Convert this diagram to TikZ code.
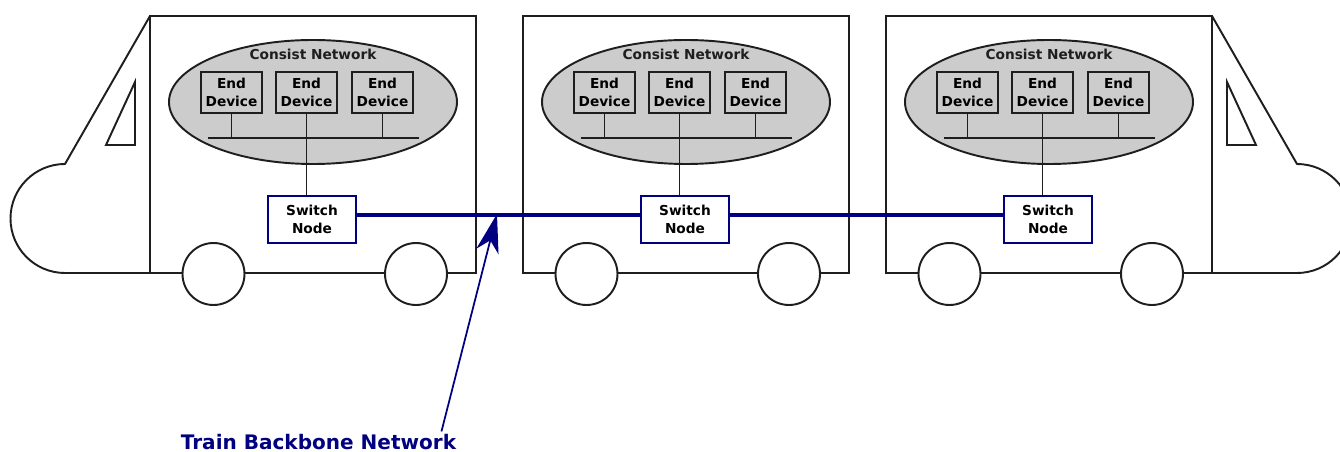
\documentclass[tikz,border=0pt]{standalone}
\usepackage{fontspec}
\setmainfont{DejaVu Sans}
\usetikzlibrary{arrows.meta,positioning}
\definecolor{Marino}{HTML}{000080}
\definecolor{Gris}{HTML}{CCCCCC}
\definecolor{Tinta}{HTML}{1E1E1E}

\begin{document}
\begin{tikzpicture}[x=0.02cm,y=-0.02cm,
    font=\fontsize{7.8}{9.9}\selectfont\bfseries,>=Stealth,
    linea/.style={draw=Tinta,line width=1.1pt},
    equipo/.style={linea,fill=Gris,minimum width=1.22cm,minimum height=0.82cm,
      inner sep=0pt,align=center},
    conmutador/.style={draw=Marino,line width=1.5pt,fill=white,
      minimum width=1.76cm,minimum height=0.94cm,inner sep=0pt,align=center},
    rueda/.style={linea,fill=white}]
  \clip (0,0) rectangle (1340,452);
  % cabs at both ends
  \draw[linea,line join=round] (150,16) -- (65,164)
    arc[start angle=270,end angle=90,radius=54.5] -- (150,273);
  \draw[linea] (135,82) -- (106,145) -- (135,145) -- cycle;
  \draw[linea,line join=round] (1212,16) -- (1297,164)
    arc[start angle=-90,end angle=90,radius=54.5] -- (1212,273);
  \draw[linea] (1227,82) -- (1256,145) -- (1227,145) -- cycle;
  % one car per consist
  \foreach \i/\x in {1/150,2/523,3/886}{
    \begin{scope}[shift={(\x,0)}]
      \draw[linea] (0,16) rectangle (326,273);
      \draw[linea,fill=Gris] (163,102) ellipse[x radius=144,y radius=62];
      \node[text=Tinta] (red\i) at (163,54) {Consist Network};
      \foreach \d/\dx in {a/81.5,b/156.5,c/232.5}
        \node[equipo] (ed\i-\d) at (\dx,92.5) {End\\Device};
      \coordinate (bus\i-w) at (57.5,138);
      \coordinate (bus\i-e) at (268.5,138);
      \draw[linea] (bus\i-w) -- (bus\i-e);
      \draw[linea] (ed\i-a) -- (ed\i-a |- bus\i-w);
      \draw[linea] (ed\i-c) -- (ed\i-c |- bus\i-w);
      \node[conmutador] (sw\i) at (162,219.5) {Switch\\Node};
      \draw[linea] (ed\i-b) -- (ed\i-b |- sw\i.north);
      \draw[rueda] (63.5,274) circle[radius=31];
      \draw[rueda] (266,274) circle[radius=31];
    \end{scope}
  }
  % backbone between the switches
  \draw[Marino,line width=2.2pt] ([yshift=0.09cm]sw1.east) -- ([yshift=0.09cm]sw2.west);
  \draw[Marino,line width=2.2pt] ([yshift=0.09cm]sw2.east) -- ([yshift=0.09cm]sw3.west);
  \node[text=Marino,font=\fontsize{11.4}{13}\selectfont\bfseries,anchor=base,
    inner sep=0pt] (tbn) at (318.5,449.5) {Train Backbone Network};
  \coordinate (tbn-tip) at (497,214);
  \draw[->,Marino,line width=1pt,>={Stealth[length=22pt,width=13pt,inset=6.5pt]}]
    ([xshift=-0.3cm,yshift=0.05cm]tbn.north east) -- (tbn-tip);
\end{tikzpicture}
\end{document}
